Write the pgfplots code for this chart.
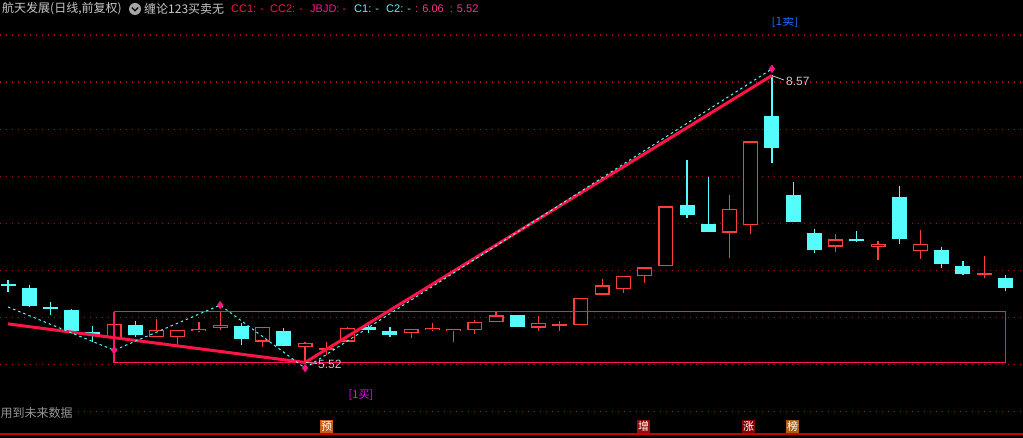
\documentclass[border=0pt]{standalone}
\usepackage{fontspec}
\setmainfont{Liberation Sans}
\newfontfamily\cjk{Noto Sans CJK SC}
\usepackage{pgfplots}
\usepackage{pgfplotstable}
\pgfplotsset{compat=1.18}

\definecolor{kcyan}{RGB}{84,252,252}
\definecolor{kred}{RGB}{255,60,60}
\definecolor{zig}{RGB}{255,20,70}
\definecolor{boxc}{RGB}{255,20,110}
\definecolor{gridc}{RGB}{165,18,18}
\definecolor{mk}{RGB}{255,20,130}
\definecolor{ltgray}{RGB}{200,200,200}
\definecolor{ccred}{RGB}{255,20,60}
\definecolor{jbpink}{RGB}{255,20,140}
\definecolor{valpink}{RGB}{255,50,140}
\definecolor{sellblue}{RGB}{30,110,255}
\definecolor{buymag}{RGB}{255,0,255}
\definecolor{midgray}{RGB}{150,150,150}
\definecolor{botred}{RGB}{200,0,0}
\definecolor{tagA}{RGB}{200,90,20}
\definecolor{tagB}{RGB}{150,10,10}
\definecolor{tagC}{RGB}{130,0,0}
\definecolor{tagD}{RGB}{170,95,20}

% down (cyan) candles
\pgfplotstableread{
i o h l c
0 6.35 6.40 6.27 6.34
1 6.31 6.34 6.11 6.12
2 6.10 6.16 6.02 6.09
3 6.08 6.09 5.85 5.85
4 5.84 5.91 5.74 5.81
6 5.92 5.96 5.79 5.81
11 5.91 5.94 5.71 5.77
13 5.85 5.89 5.69 5.69
17 5.90 5.93 5.83 5.87
18 5.85 5.90 5.79 5.81
24 6.02 6.02 5.90 5.90
32 7.19 7.67 7.05 7.09
33 6.99 7.49 6.91 6.91
36 8.14 8.57 7.64 7.80
37 7.30 7.44 7.01 7.01
38 6.90 6.94 6.68 6.72
40 6.83 6.92 6.80 6.81
42 7.28 7.40 6.78 6.83
44 6.72 6.75 6.52 6.57
45 6.55 6.60 6.45 6.46
47 6.42 6.45 6.28 6.31
}\downdata

% up (red) candles
\pgfplotstableread{
i o h l c
5 5.78 5.93 5.78 5.93
7 5.79 5.98 5.79 5.87
8 5.79 5.87 5.71 5.87
9 5.85 5.95 5.84 5.88
10 5.89 6.07 5.86 5.92
12 5.74 5.90 5.68 5.90
14 5.68 5.74 5.52 5.73
15 5.65 5.74 5.60 5.67
16 5.74 5.90 5.74 5.89
19 5.83 5.88 5.78 5.88
20 5.86 5.94 5.85 5.89
21 5.85 5.88 5.74 5.88
22 5.86 5.97 5.82 5.95
23 5.95 6.06 5.95 6.02
25 5.89 6.01 5.85 5.94
26 5.91 5.96 5.85 5.92
27 5.92 6.21 5.92 6.21
28 6.24 6.41 6.24 6.34
29 6.30 6.44 6.26 6.44
30 6.44 6.53 6.36 6.53
31 6.54 7.18 6.54 7.18
34 6.90 7.30 6.63 7.15
35 6.98 7.87 6.89 7.87
39 6.75 6.89 6.69 6.83
41 6.75 6.81 6.61 6.78
43 6.70 6.93 6.62 6.78
46 6.46 6.65 6.42 6.47
}\updata

\begin{document}
\begin{tikzpicture}
\useasboundingbox (0,0) rectangle (1023pt,437pt);
\fill[black] (-3pt,-3pt) rectangle (1026pt,440pt);
\begin{axis}[
  at={(0,0)}, anchor=south west,
  scale only axis, width=1023pt, height=437pt,
  xmin=-0.377, xmax=47.83, ymin=4.728, ymax=9.372,
  hide axis, clip=true,
]
% grid lines
\pgfplotsinvokeforeach{5,5.5,6,6.5,7,7.5,8,8.5,9}{
  \addplot[gridc, line width=1.2pt, dash pattern=on 1.2pt off 4.8pt, forget plot] coordinates {(-0.377,#1) (47.83,#1)};
}
% wicks
\addplot[draw=none, mark=none, forget plot, error bars/.cd, y dir=both, y explicit, error mark=none,
  error bar style={draw=kcyan, line width=1.2pt}]
  table[x=i, y expr={(\thisrow{h}+\thisrow{l})/2}, y error expr={(\thisrow{h}-\thisrow{l})/2}] {\downdata};
\addplot[draw=none, mark=none, forget plot, error bars/.cd, y dir=both, y explicit, error mark=none,
  error bar style={draw=kred, line width=1.2pt}]
  table[x=i, y expr={(\thisrow{h}+\thisrow{l})/2}, y error expr={(\thisrow{h}-\thisrow{l})/2}] {\updata};
% bodies
\addplot[draw=none, mark=none, forget plot, error bars/.cd, y dir=both, y explicit, error mark=none,
  error bar style={draw=kcyan, line width=15pt}]
  table[x=i, y expr={(\thisrow{o}+\thisrow{c})/2}, y error expr={max(abs(\thisrow{o}-\thisrow{c})/2,0.0106)}] {\downdata};
\addplot[draw=none, mark=none, forget plot, error bars/.cd, y dir=both, y explicit, error mark=none,
  error bar style={draw=kred, line width=15pt}]
  table[x=i, y expr={(\thisrow{o}+\thisrow{c})/2}, y error expr={max(abs(\thisrow{o}-\thisrow{c})/2,0.0106)}] {\updata};
\addplot[draw=none, mark=none, forget plot, error bars/.cd, y dir=both, y explicit, error mark=none,
  error bar style={draw=black, line width=12.6pt}]
  table[x=i, y expr={(\thisrow{o}+\thisrow{c})/2}, y error expr={max(abs(\thisrow{o}-\thisrow{c})/2-0.0138,0)}] {\updata};
% range box
\addplot[boxc, line width=1.3pt, forget plot] coordinates {(5,6.06) (47,6.06) (47,5.52) (5,5.52) (5,6.06)};
% zig line
\addplot[zig, line width=3pt, forget plot] coordinates {(0,5.93) (14,5.52) (36,8.57)};
% dashed pen
\addplot[kcyan, line width=1pt, dash pattern=on 2.5pt off 3pt, forget plot] coordinates {(0,6.11) (5,5.65) (10,6.13) (14,5.46) (36,8.64)};
% markers
\addplot[only marks, mark=diamond*, mark size=3.8pt, mk, forget plot] coordinates {(5,5.65) (10,6.13) (14,5.46) (36,8.64)};
\end{axis}

\begin{scope}[shift={(0,437pt)}, x=1pt, y=-1pt]
% title bar
\node[anchor=west, inner sep=0, text=ltgray, font=\cjk\fontsize{12}{12}\selectfont] at (2,9) {航天发展(日线,前复权)};
\fill[gray!70] (135,9) circle (6);
\draw[black, line width=1.3] (131.8,7.5) -- (135,10.8) -- (138.2,7.5);
\node[anchor=west, inner sep=0, text=ltgray, font=\cjk\fontsize{12}{12}\selectfont] at (144,9) {缠论123买卖无};
\node[anchor=west, inner sep=0, text=ccred, font=\fontsize{11}{11}\selectfont] at (231,9) {CC1: -};
\node[anchor=west, inner sep=0, text=ccred, font=\fontsize{11}{11}\selectfont] at (270,9) {CC2: -};
\node[anchor=west, inner sep=0, text=jbpink, font=\fontsize{11}{11}\selectfont] at (310,9) {JBJD: -};
\node[anchor=west, inner sep=0, text=kcyan, font=\fontsize{11}{11}\selectfont] at (354,9) {C1: -};
\node[anchor=west, inner sep=0, text=kcyan, font=\fontsize{11}{11}\selectfont] at (386,9) {C2: -};
\node[anchor=west, inner sep=0, text=valpink, font=\fontsize{11}{11}\selectfont] at (415,9) {: 6.06 \ : 5.52};
% [1卖] at top
\begin{scope}
\clip (760,18) rectangle (810,40);
\node[inner sep=0, text=sellblue, font=\cjk\fontsize{12}{12}\selectfont] at (785,22) {[1卖]};
\end{scope}
% value labels
\draw[ltgray, line width=0.8] (773,76) -- (784,80);
\node[anchor=west, inner sep=0, text=ltgray, font=\fontsize{12}{12}\selectfont] at (786,81.5) {8.57};
\draw[ltgray, line width=0.8] (306,362.5) -- (317,363.5);
\node[anchor=west, inner sep=0, text=ltgray, font=\fontsize{12}{12}\selectfont] at (318,364) {5.52};
% [1买]
\node[inner sep=0, text=buymag, font=\cjk\fontsize{11}{11}\selectfont] at (361,395) {[1买]};
% bottom text
\fill[black] (0,405) rectangle (74,421);
\node[anchor=west, inner sep=0, text=midgray, font=\cjk\fontsize{12}{12}\selectfont] at (0.5,413) {用到未来数据};
\draw[botred, line width=1.5] (0,434) -- (1023,434);
\node[minimum width=13, minimum height=13, inner sep=0, fill=tagA, text=white, font=\cjk\fontsize{11}{11}\selectfont] at (326.5,426.5) {预};
\node[minimum width=13, minimum height=13, inner sep=0, fill=tagB, text=white, font=\cjk\fontsize{11}{11}\selectfont] at (643.5,426.5) {增};
\node[minimum width=13, minimum height=13, inner sep=0, fill=tagC, text=white, font=\cjk\fontsize{11}{11}\selectfont] at (748.5,426.5) {涨};
\node[minimum width=13, minimum height=13, inner sep=0, fill=tagD, text=white, font=\cjk\fontsize{11}{11}\selectfont] at (792.5,426.5) {榜};
\end{scope}
\end{tikzpicture}
\end{document}
